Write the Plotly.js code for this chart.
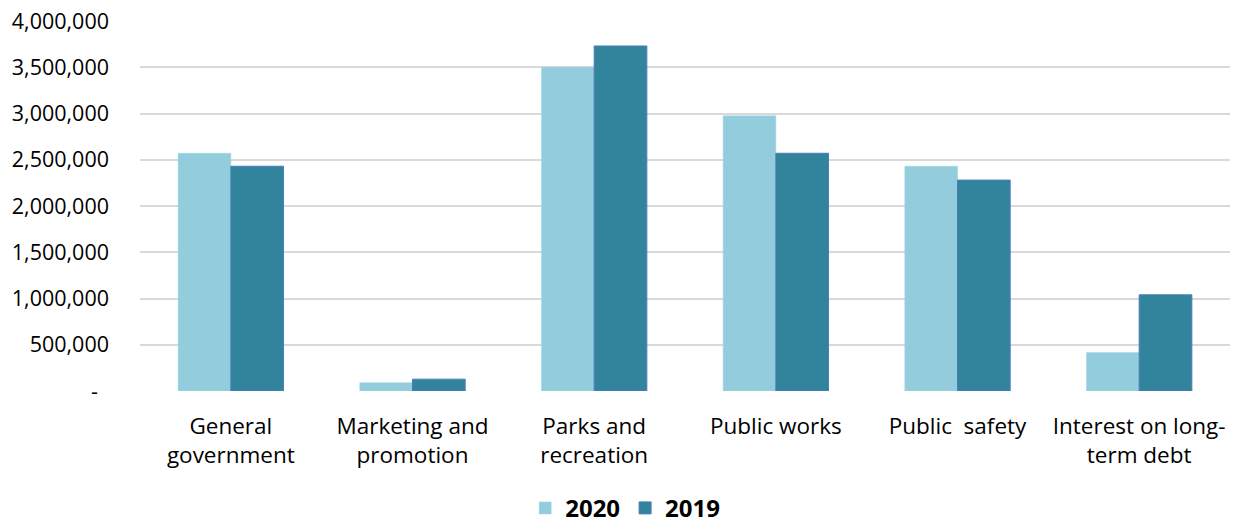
<!DOCTYPE html>
<html>
<head>
<meta charset="utf-8">
<script src="https://cdn.plot.ly/plotly-3.0.1.min.js"></script>
<style>
html,body{margin:0;padding:0;background:#fff;}
#chart{width:1238px;height:524px;}
</style>
</head>
<body>
<div id="chart"></div>
<script>
const categories = [
  "General<br>government",
  "Marketing and<br>promotion",
  "Parks and<br>recreation",
  "Public works",
  "Public\u00a0 safety",
  "Interest on long-<br>term debt"
];
const values2020 = [2570000, 90000, 3500000, 2975000, 2430000, 415000];
const values2019 = [2430000, 128000, 3730000, 2570000, 2280000, 1040000];
const tickVals = [0, 500000, 1000000, 1500000, 2000000, 2500000, 3000000, 3500000, 4000000];
const tickText = ["-\u00a0\u00a0", "500,000", "1,000,000", "1,500,000", "2,000,000", "2,500,000", "3,000,000", "3,500,000", "4,000,000"];

const font = "Open Sans, Lato, sans-serif";

const data = [
  {
    type: "bar", name: "2020", x: categories, y: values2020,
    marker: {color: "#93CDDD", line: {color: "#9fd3e0", width: 0.5}},
    hoverinfo: "y"
  },
  {
    type: "bar", name: "2019", x: categories, y: values2019,
    marker: {color: "#31849B", line: {color: "#4a7ebb", width: 1}},
    hoverinfo: "y"
  }
];

const layout = {
  width: 1238, height: 524,
  margin: {l: 140, r: 8, t: 21, b: 133},
  paper_bgcolor: "#fff", plot_bgcolor: "#fff",
  barmode: "group", bargap: 0.42, bargroupgap: 0,
  font: {family: font, color: "#000"},
  xaxis: {
    type: "category",
    tickfont: {family: font, size: 22.5, color: "#000"},
    showgrid: false, zeroline: false, showline: false,
    ticks: "", ticklabelstandoff: 19
  },
  yaxis: {
    range: [0, 4000000],
    tickvals: tickVals, ticktext: tickText,
    tickfont: {family: font, size: 21.5, color: "#000"},
    showgrid: true, gridcolor: "#d9d9d9", gridwidth: 2,
    zeroline: false, showline: false, ticks: "",
    ticklabelstandoff: 30
  },
  showlegend: true,
  legend: {
    orientation: "h",
    xref: "container", yref: "container",
    x: 0.505, xanchor: "center",
    y: 0.03, yanchor: "middle",
    font: {family: font, size: 24, color: "#000", weight: "bold"},
    itemwidth: 30, traceorder: "normal"
  }
};

Plotly.newPlot("chart", data, layout, {displayModeBar: false, staticPlot: true});
</script>
</body>
</html>
